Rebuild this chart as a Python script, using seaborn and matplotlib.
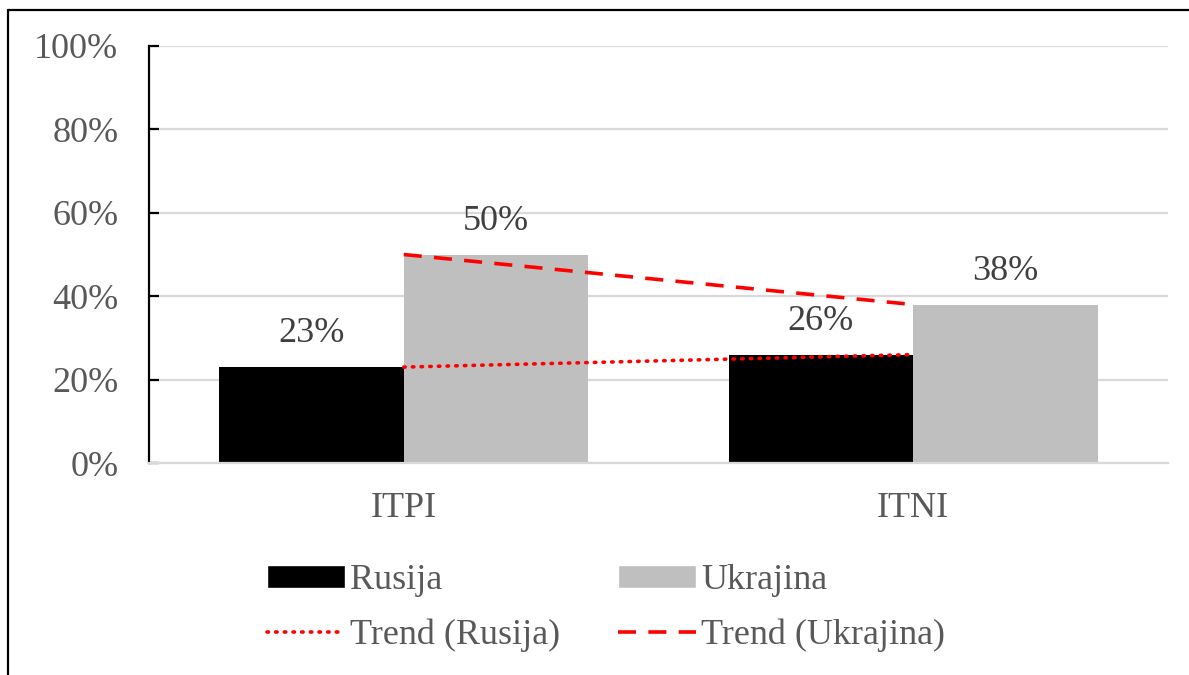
import matplotlib
matplotlib.use("Agg")
import matplotlib.pyplot as plt
from matplotlib.lines import Line2D
from matplotlib.patches import Patch
import pandas as pd
import seaborn as sns

# chart values
categories = ["ITPI", "ITNI"]
series = ["Rusija", "Ukrajina"]
rusija = [0.23, 0.26]
ukrajina = [0.50, 0.38]
y_ticks = [0, 0.2, 0.4, 0.6, 0.8, 1.0]

bar_colors = {"Rusija": "#000000", "Ukrajina": "#bfbfbf"}
trend_color = "#ff0000"
text_gray = "#595959"
grid_gray = "#d9d9d9"
FS = 26


def main():
    sns.set_theme(style="white")
    plt.rcParams["font.family"] = ["Liberation Serif", "DejaVu Serif"]

    df = pd.DataFrame({
        "cat": categories * 2,
        "series": [series[0]] * 2 + [series[1]] * 2,
        "val": rusija + ukrajina,
    })

    fig = plt.figure(figsize=(11.89, 6.75), dpi=100)
    ax = fig.add_axes([149 / 1189, 1 - 463 / 675, (1168 - 149) / 1189, (463 - 46) / 675])

    sns.barplot(data=df, x="cat", y="val", hue="series", order=categories,
                hue_order=series, palette=bar_colors, width=0.725, gap=0,
                saturation=1, legend=False, linewidth=0, ax=ax, zorder=2)

    # trend lines between the category centres
    dot = (0, (0.4, 2.0))
    dash = (0, (5.0, 3.4))
    xs = list(range(len(categories)))
    ax.plot(xs, rusija, color=trend_color, linestyle=dot, lw=2.6,
            dash_capstyle="round", zorder=3)
    ax.plot(xs, ukrajina, color=trend_color, linestyle=dash, lw=2.6, zorder=3)

    # value labels
    for container in ax.containers:
        ax.bar_label(container, labels=[f"{v * 100:.0f}%" for v in container.datavalues],
                     padding=12, fontsize=FS, color="#404040")

    ax.set_xlim(-0.5, 1.5)
    ax.set_ylim(0, 1.0)
    ax.set_yticks(y_ticks)
    ax.set_yticklabels([f"{int(round(t * 100))}%" for t in y_ticks])
    ax.set_xlabel("")
    ax.set_ylabel("")
    ax.yaxis.grid(True, color=grid_gray, lw=1.6, zorder=0)
    ax.set_axisbelow(True)

    for side in ["top", "right"]:
        ax.spines[side].set_visible(False)
    ax.spines["left"].set_color("black")
    ax.spines["left"].set_linewidth(1.6)
    ax.spines["bottom"].set_color(grid_gray)
    ax.spines["bottom"].set_linewidth(1.6)

    ax.tick_params(axis="y", direction="in", length=7, width=1.6, color="black",
                   left=True, labelsize=FS, labelcolor=text_gray, pad=22)
    ax.tick_params(axis="x", length=0, labelsize=FS, labelcolor=text_gray, pad=21)

    handles = [
        Patch(facecolor=bar_colors["Rusija"], label="Rusija"),
        Line2D([], [], color=trend_color, linestyle=dot, lw=2.6,
               dash_capstyle="round", label="Trend (Rusija)"),
        Patch(facecolor=bar_colors["Ukrajina"], label="Ukrajina"),
        Line2D([], [], color=trend_color, linestyle=dash, lw=2.6,
               label="Trend (Ukrajina)"),
    ]
    fig.legend(handles=handles, ncol=2, loc="center",
               bbox_to_anchor=(606 / 1189, 1 - 608 / 675), frameon=False,
               fontsize=FS, labelcolor=text_gray, handlelength=2.15,
               handleheight=0.6, handletextpad=0.15, columnspacing=1.6,
               labelspacing=0.6)

    # outer border of the chart area (partly cut off as in the source)
    fig.add_artist(Line2D([8 / 1189, 1.0], [1 - 10 / 675, 1 - 10 / 675],
                          transform=fig.transFigure, color="black", lw=1.6))
    fig.add_artist(Line2D([8 / 1189, 8 / 1189], [0.0, 1 - 10 / 675],
                          transform=fig.transFigure, color="black", lw=1.6))

    fig.savefig("out.png", dpi=100)


main()
